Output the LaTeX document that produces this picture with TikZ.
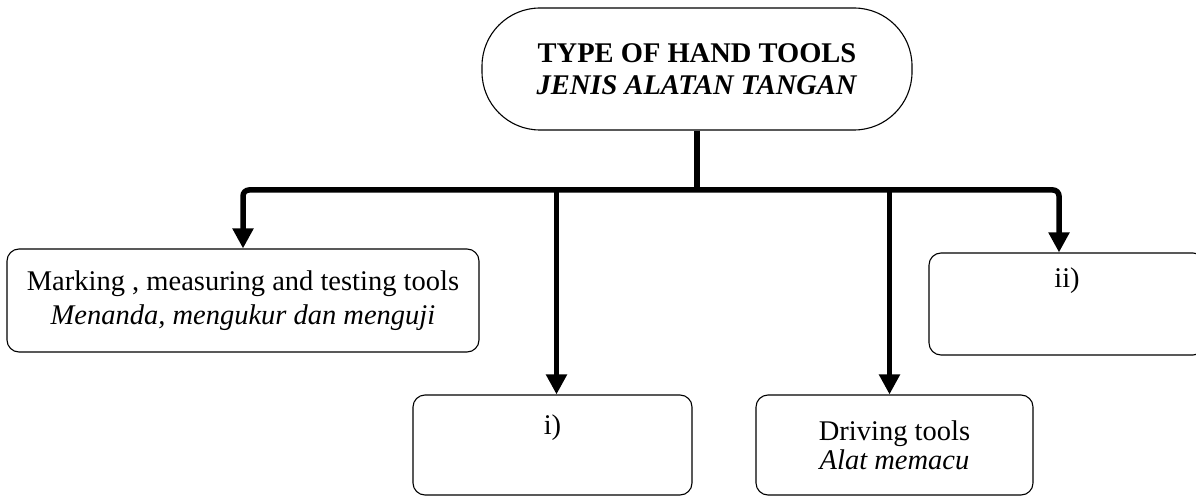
\documentclass[tikz,border=0pt]{standalone}
\usepackage{fontspec}
\setmainfont{Liberation Serif}
\usetikzlibrary{arrows.meta}
\tikzset{
	box/.style={draw,rounded corners=12pt,line width=1.1pt,align=center,
		font=\fontsize{28.5}{32}\selectfont},
	link/.style={line width=5.5pt,rounded corners=6pt,
		>={Triangle[length=20pt,width=20pt]}}
}
\begin{document}
\begin{tikzpicture}[x=1pt,y=-1pt]
	\useasboundingbox (0,0) rectangle (1196,497);
	\clip (0,0) rectangle (1196,497);
	\node[box,rounded corners=58pt,minimum width=430pt,minimum height=122pt] (top) at (697,69)
		{\textbf{TYPE OF HAND TOOLS}\\\textbf{\textit{JENIS ALATAN TANGAN}}};
	\node[box,minimum width=472pt,minimum height=103pt] (mark) at (243,300.5)
		{Marking , measuring and testing tools\\[2pt]\textit{Menanda, mengukur dan menguji}};
	\node[box,minimum width=279pt,minimum height=100pt] (one) at (552.5,445)
		{i)\\\strut};
	\node[box,minimum width=277pt,minimum height=100pt] (drive) at (894.5,445)
		{Driving tools\\[-3pt]\textit{Alat memacu}};
	\node[box,minimum width=276pt,minimum height=102pt] (two) at (1067,304)
		{ii)\\[12pt]\strut};
	\coordinate (hub) at (top.south |- 0,190);
	\draw[link] (top) -- (hub);
	\draw[link,<->] (mark.north) |- (hub) -| ([xshift=-8pt]two.north);
	\draw[link,->] ([xshift=4pt]one.north |- hub) -- ([xshift=4pt]one.north);
	\draw[link,->] ([xshift=-5pt]drive.north |- hub) -- ([xshift=-5pt]drive.north);
\end{tikzpicture}
\end{document}
